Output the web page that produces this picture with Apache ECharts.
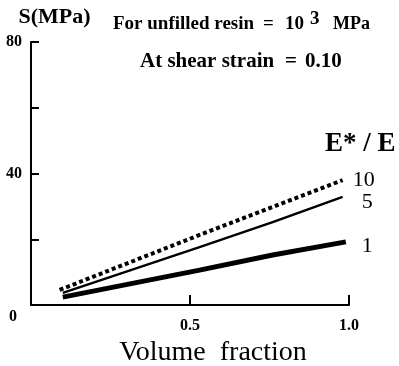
<!DOCTYPE html>
<html>
<head>
<meta charset="utf-8">
<script src="https://cdn.jsdelivr.net/npm/echarts@6/dist/echarts.min.js"></script>
<style>
  html, body { margin: 0; padding: 0; background: #fff; }
  #chart { width: 399px; height: 366px; }
</style>
</head>
<body>
<div id="chart"></div>
<script>
// series points: [volume fraction, S (MPa)]
const ratio10 = [[0.09, 4.6], [0.53, 21.3], [0.98, 38.0]];
const ratio5 = [[0.1, 3.7], [0.53, 17.6], [0.76, 25.2], [0.98, 32.9]];
const ratio1 = [[0.1, 2.4], [0.53, 10.6], [0.76, 15.2], [0.99, 19.2]];
const seriesLabels = ['10', '5', '1'];
const yLabels = [80, 40];
const xLabels = [0.5, 1.0];

const serif = 'Liberation Serif';
const chart = echarts.init(document.getElementById('chart'));

const endLabel = (txt, offset) => ({
  show: true,
  formatter: txt,
  distance: 8,
  offset: offset,
  color: '#000',
  fontFamily: serif,
  fontSize: 22,
});

const txt = (text, left, top, size, bold = true) => ({
  type: 'text',
  left: left,
  top: top,
  style: { text: text, fill: '#000', font: (bold ? 'bold ' : '') + size + 'px "Liberation Serif"' },
});

const option = {
  animation: false,
  grid: { left: 31, right: 50, top: 42, bottom: 61, outerBoundsMode: 'none' },
  xAxis: {
    type: 'value',
    min: 0,
    max: 1,
    interval: 0.5,
    name: 'Volume  fraction',
    nameLocation: 'middle',
    nameGap: 29,
    nameTextStyle: { color: '#000', fontFamily: serif, fontSize: 28, padding: [0, 0, 0, 46] },
    axisLine: { lineStyle: { color: '#000', width: 2 } },
    axisTick: { inside: true, length: 10, lineStyle: { color: '#000', width: 2 } },
    axisLabel: {
      margin: 13,
      color: '#000',
      fontFamily: serif,
      fontWeight: 'bold',
      fontSize: 16,
      formatter: (v) => (xLabels.includes(v) ? v.toFixed(1) : ''),
    },
    splitLine: { show: false },
  },
  yAxis: {
    type: 'value',
    min: 0,
    max: 80,
    interval: 20,
    name: 'S(MPa)',
    nameLocation: 'end',
    nameGap: 14,
    nameTextStyle: { color: '#000', fontFamily: serif, fontWeight: 'bold', fontSize: 22, padding: [0, 0, 0, 47] },
    axisLine: { lineStyle: { color: '#000', width: 2 } },
    axisTick: { inside: true, length: 8, lineStyle: { color: '#000', width: 2 } },
    axisLabel: {
      margin: 9,
      color: '#000',
      fontFamily: serif,
      fontWeight: 'bold',
      fontSize: 16,
      formatter: (v) => (yLabels.includes(v) ? String(v) : ''),
    },
    splitLine: { show: false },
  },
  series: [
    {
      type: 'line',
      data: ratio10,
      symbol: 'none',
      lineStyle: { color: '#000', width: 4, type: [4, 3], cap: 'butt' },
      endLabel: endLabel(seriesLabels[0], [2, 0]),
    },
    {
      type: 'line',
      data: ratio5,
      symbol: 'none',
      lineStyle: { color: '#000', width: 2.5 },
      endLabel: endLabel(seriesLabels[1], [11, 5]),
    },
    {
      type: 'line',
      data: ratio1,
      symbol: 'none',
      lineStyle: { color: '#000', width: 5 },
      endLabel: endLabel(seriesLabels[2], [8, 4]),
    },
  ],
  graphic: [
    txt('0', 9, 309, 16),
    txt('For unfilled resin', 113, 15, 19),
    txt('=', 263, 15, 19),
    txt('10', 285, 15, 19),
    txt('3', 310, 10, 19),
    txt('MPa', 333, 15, 18),
    txt('At shear strain', 140, 51, 21),
    txt('=', 285, 51, 21),
    txt('0.10', 305, 51, 21),
    txt('E* / E', 325, 131, 27),
  ],
};

chart.setOption(option);
</script>
</body>
</html>
